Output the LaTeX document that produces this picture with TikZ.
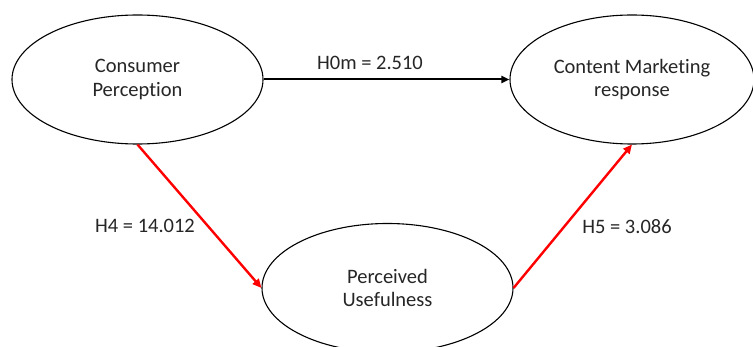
\documentclass[tikz,border=0pt]{standalone}
\usepackage{fontspec}
\setmainfont[Ligatures=NoCommon]{Carlito}
\usetikzlibrary{shapes.geometric,arrows.meta}

\tikzset{
  construct/.style={ellipse, draw=black, line width=1.1pt, inner sep=0pt,
    minimum width=251pt, minimum height=129pt, align=center,
    font=\fontsize{20.5}{23.5}\selectfont, text=black!85},
  pathlbl/.style={font=\fontsize{20.5}{23.5}\selectfont, text=black!85},
  blackpath/.style={draw=black, line width=2pt, -{Triangle[length=8pt,width=7pt]}},
  redpath/.style={draw=red, line width=2.4pt, -{Triangle[length=9pt,width=8pt]}}
}

\begin{document}
\begin{tikzpicture}[x=1pt, y=-1pt]
  \useasboundingbox (0,0) rectangle (753,347);
  \clip (0,0) rectangle (753,347);

  % constructs of the model
  \node[construct] (cp)  at (137.5,79.5) {Consumer\\Perception};
  \node[construct, minimum width=244pt] (cmr) at (632,79.5) {Content Marketing\\response};
  \node[construct] (pu)  at (387.5,288) {Perceived\\Usefulness};

  % hypothesised paths
  \draw[blackpath] (cp.east) -- (cmr.west);
  \draw[redpath] (cp.south) -- (pu.west);
  \draw[redpath] (pu.east) -- (cmr.south);

  % path coefficients
  \node[pathlbl] (h0) at (370,63) {H0m = 2.510};
  \node[pathlbl] (h4) at (145,226) {H4 = 14.012};
  \node[pathlbl] (h5) at (627,227) {H5 = 3.086};
\end{tikzpicture}
\end{document}
